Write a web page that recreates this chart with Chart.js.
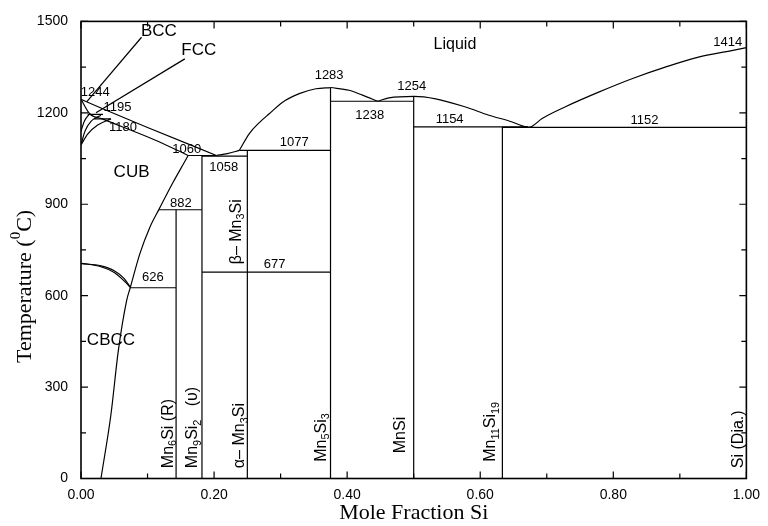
<!DOCTYPE html>
<html>
<head>
<meta charset="utf-8">
<script src="https://cdn.jsdelivr.net/npm/chart.js@4.4.1/dist/chart.umd.min.js"></script>
<style>
  html, body { margin: 0; padding: 0; background: #fff; }
  #wrap { width: 768px; height: 526px; }
</style>
</head>
<body>
<div id="wrap"><canvas id="chart" width="768" height="526"></canvas></div>
<script>
// Mn-Si phase diagram. x = mole fraction Si, y = temperature (C)
const xTicks = [0, 0.2, 0.4, 0.6, 0.8, 1.0];
const xMinorTicks = [0.1, 0.3, 0.5, 0.7, 0.9];
const yTicks = [0, 300, 600, 900, 1200, 1500];
const yMinorTicks = [150, 450, 750, 1050, 1350];

// liquidus
const liqMn = [[0, 1244], [0.03, 1216], [0.10, 1152], [0.2035, 1060]];
const liqV = [[0.2035, 1060], [0.22, 1066], [0.238, 1077]];
const liqMn5Si3L = [[0.238, 1077], [0.253, 1132], [0.268, 1168], [0.283, 1197], [0.303, 1235], [0.328, 1263], [0.353, 1279], [0.375, 1283]];
const liqMn5Si3R = [[0.375, 1283], [0.403, 1274], [0.423, 1258], [0.446, 1238]];
const liqMnSi = [[0.446, 1238], [0.463, 1249], [0.5, 1254], [0.533, 1246], [0.578, 1219], [0.613, 1192], [0.648, 1170], [0.663, 1157], [0.672, 1153]];
const liqSi = [[0.672, 1152], [0.678, 1156], [0.693, 1181], [0.728, 1220], [0.778, 1268], [0.828, 1312], [0.878, 1350], [0.928, 1383], [0.978, 1404], [1.0, 1414]];

// solidus and solvus curves on the Mn side
const solMn = [[0, 1244], [0.013, 1197], [0.032, 1180], [0.112, 1110], [0.161, 1060]];
const bccSolvus = [[0, 1140], [0.005, 1172], [0.012, 1195]];
const fccSolvusA = [[0, 1095], [0.006, 1140], [0.015, 1172], [0.03, 1192]];
const fccSolvusB = [[0, 1095], [0.01, 1130], [0.025, 1160], [0.045, 1180]];
const cubSolvus = [[0.030, 0], [0.045, 210], [0.056, 418], [0.0685, 583], [0.074, 626], [0.0885, 738], [0.1034, 824], [0.1174, 884], [0.1384, 972], [0.1585, 1050], [0.161, 1060]];
const cbccUpper = [[0, 706], [0.03, 698], [0.05, 682], [0.065, 656], [0.074, 628]];
const cbccLower = [[0, 706], [0.03, 695], [0.05, 676], [0.065, 648], [0.074, 628]];

// invariant lines (isotherms)
const iso1195 = [[0.010, 1195], [0.033, 1195]];
const iso1180 = [[0.020, 1180], [0.045, 1180]];
const iso1060 = [[0.161, 1060], [0.2035, 1060]];
const iso1058 = [[0.1818, 1058], [0.25, 1058]];
const iso1077 = [[0.238, 1077], [0.375, 1077]];
const iso1238 = [[0.375, 1238], [0.5, 1238]];
const iso1154 = [[0.5, 1154], [0.672, 1154]];
const iso1152 = [[0.6333, 1152], [1.0, 1152]];
const iso882 = [[0.1174, 882], [0.1818, 882]];
const iso677 = [[0.1818, 677], [0.375, 677]];
const iso626 = [[0.074, 626], [0.1429, 626]];

// compounds
const vMn6Si = [[0.1429, 0], [0.1429, 882]];
const vMn9Si2 = [[0.1818, 0], [0.1818, 1060]];
const vMn3Si = [[0.25, 0], [0.25, 1077]];
const vMn5Si3 = [[0.375, 0], [0.375, 1283]];
const vMnSi = [[0.5, 0], [0.5, 1254]];
const vMn11Si19 = [[0.6333, 0], [0.6333, 1154]];

// leader lines for BCC / FCC labels
const leadBCC = [[0.091, 1448], [0.0085, 1236]];
const leadFCC = [[0.156, 1377], [0.0225, 1200]];

const sansFam = '"Liberation Sans", Arial, sans-serif';
const serifFam = '"Liberation Serif", "Times New Roman", serif';

// label text: [segments, x, y, size, rotated]
const labels = [
  [[['Liquid']], 0.562, 1425, 16],
  [[['BCC']], 0.117, 1468, 17],
  [[['FCC']], 0.177, 1406, 17],
  [[['CUB']], 0.076, 1004, 17],
  [[['CBCC']], 0.045, 452, 17],
  [[['1244']], 0.0214, 1268, 13],
  [[['1195']], 0.0547, 1219, 13],
  [[['1180']], 0.063, 1151, 13],
  [[['1060']], 0.159, 1079, 13],
  [[['1058']], 0.2144, 1020, 13],
  [[['882']], 0.15, 903, 13],
  [[['626']], 0.108, 661, 13],
  [[['677']], 0.291, 704, 13],
  [[['1077']], 0.3204, 1102, 13],
  [[['1283']], 0.3729, 1323, 13],
  [[['1238']], 0.434, 1192, 13],
  [[['1254']], 0.497, 1285, 13],
  [[['1154']], 0.554, 1177, 13],
  [[['1152']], 0.847, 1174, 13],
  [[['1414']], 0.972, 1432, 13],
  [[['Mn'], ['6', 'sub'], ['Si (R)']], 0.131, 34, 16, true],
  [[['Mn'], ['9', 'sub'], ['Si'], ['2', 'sub'], ['   (\u03c5)']], 0.1684, 34, 16, true],
  [[['\u03b1\u2013 Mn'], ['3', 'sub'], ['Si']], 0.2384, 34, 16, true],
  [[['\u03b2\u2013 Mn'], ['3', 'sub'], ['Si']], 0.2334, 703, 16, true],
  [[['Mn'], ['5', 'sub'], ['Si'], ['3', 'sub']], 0.361, 55, 16, true],
  [[['MnSi']], 0.481, 83, 16, true],
  [[['Mn'], ['11', 'sub'], ['Si'], ['19', 'sub']], 0.6157, 55, 16, true],
  [[['Si (Dia.)']], 0.988, 34, 16, true]
];

function drawRich(ctx, segs, x, y, size, fam, align, rotate) {
  ctx.save();
  ctx.translate(x, y);
  if (rotate) ctx.rotate(-Math.PI / 2);
  let w = 0;
  const parts = segs.map(s => {
    const fs = s[1] ? size * 0.68 : size;
    ctx.font = fs + 'px ' + fam;
    const pw = ctx.measureText(s[0]).width;
    w += pw;
    let dy = 0;
    if (s[1] === 'sub') dy = size * 0.32;
    if (s[1] === 'sup') dy = -size * 0.4;
    return { t: s[0], fs: fs, pw: pw, dy: dy };
  });
  let cx = align === 'center' ? -w / 2 : 0;
  ctx.textBaseline = 'middle';
  ctx.textAlign = 'left';
  ctx.fillStyle = '#000';
  parts.forEach(p => {
    ctx.font = p.fs + 'px ' + fam;
    ctx.fillText(p.t, cx, p.dy);
    cx += p.pw;
  });
  ctx.restore();
}

function line(pts, smooth) {
  return {
    data: pts.map(p => ({ x: p[0], y: p[1] })),
    showLine: true,
    pointRadius: 0,
    borderColor: '#000',
    borderWidth: 1.2,
    cubicInterpolationMode: smooth ? 'monotone' : 'default',
    tension: smooth ? 0.4 : 0,
    fill: false
  };
}

const curves = [liqMn, liqV, liqMn5Si3L, liqMn5Si3R, liqMnSi, liqSi, solMn,
  bccSolvus, fccSolvusA, fccSolvusB, cubSolvus, cbccUpper, cbccLower];
const straights = [iso1195, iso1180, iso1060, iso1058, iso1077, iso1238, iso1154, iso1152,
  iso882, iso677, iso626, vMn6Si, vMn9Si2, vMn3Si, vMn5Si3, vMnSi, vMn11Si19, leadBCC, leadFCC];

const datasets = curves.map(c => line(c, true)).concat(straights.map(s => line(s, false)));

const framePlugin = {
  id: 'frame',
  afterDatasetsDraw(chart) {
    const ctx = chart.ctx;
    const a = chart.chartArea;
    const xs = chart.scales.x, ys = chart.scales.y;
    ctx.save();
    ctx.strokeStyle = '#000';
    ctx.lineWidth = 1.6;
    ctx.strokeRect(a.left, a.top, a.right - a.left, a.bottom - a.top);
    ctx.lineWidth = 1.2;
    ctx.beginPath();
    const tickX = (v, len) => {
      const px = xs.getPixelForValue(v);
      ctx.moveTo(px, a.bottom); ctx.lineTo(px, a.bottom - len);
      ctx.moveTo(px, a.top); ctx.lineTo(px, a.top + len);
    };
    const tickY = (v, len) => {
      const py = ys.getPixelForValue(v);
      ctx.moveTo(a.left, py); ctx.lineTo(a.left + len, py);
      ctx.moveTo(a.right, py); ctx.lineTo(a.right - len, py);
    };
    xTicks.forEach(v => tickX(v, 7));
    xMinorTicks.forEach(v => tickX(v, 5));
    yTicks.forEach(v => tickY(v, 7));
    yMinorTicks.forEach(v => tickY(v, 5));
    ctx.stroke();

    labels.forEach(l => {
      const px = xs.getPixelForValue(l[1]);
      const py = ys.getPixelForValue(l[2]);
      drawRich(ctx, l[0], px, py, l[3], sansFam, l[4] ? 'left' : 'center', !!l[4]);
    });

    // axis titles
    drawRich(ctx, [['Mole Fraction Si']], (a.left + a.right) / 2, 513, 22, serifFam, 'center', false);
    drawRich(ctx, [['Temperature ('], ['0', 'sup'], ['C)']], 25, 363, 22, serifFam, 'left', true);
    ctx.restore();
  }
};

new Chart(document.getElementById('chart'), {
  type: 'scatter',
  data: { datasets: datasets },
  options: {
    responsive: false,
    animation: false,
    layout: { padding: { top: 19, right: 20, left: 0, bottom: 0 } },
    plugins: { legend: { display: false }, tooltip: { enabled: false } },
    scales: {
      x: {
        type: 'linear', min: 0, max: 1,
        afterBuildTicks: s => { s.ticks = xTicks.map(v => ({ value: v })); },
        afterFit: s => { s.height = 47.5; },
        grid: { display: false, drawTicks: false },
        border: { display: false },
        ticks: {
          padding: 8, color: '#000',
          font: { family: sansFam, size: 14 },
          callback: v => v.toFixed(2)
        }
      },
      y: {
        type: 'linear', min: 0, max: 1500,
        afterBuildTicks: s => { s.ticks = yTicks.map(v => ({ value: v })); },
        afterFit: s => { s.width = 81; },
        grid: { display: false, drawTicks: false },
        border: { display: false },
        ticks: {
          padding: 13, color: '#000',
          font: { family: sansFam, size: 14 },
          callback: v => String(v)
        }
      }
    }
  },
  plugins: [framePlugin]
});
</script>
</body>
</html>
